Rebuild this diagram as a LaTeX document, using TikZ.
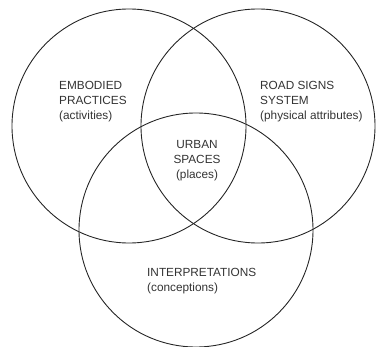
\documentclass[tikz,border=0pt]{standalone}
\usepackage{fontspec}
\setmainfont{Liberation Sans}
\begin{document}
\begin{tikzpicture}[x=1pt,y=-1pt,
  ring/.style={circle, draw=black!85, line width=0.9pt, minimum size=234pt, inner sep=0pt},
  lbl/.style={inner sep=0pt, font=\fontsize{11.8}{15}\selectfont, text=black!80}]
\useasboundingbox (0,0) rectangle (377,347);
\node[ring] (L) at (129,126) {};
\node[ring] (R) at (258,126) {};
\node[ring] (B) at (196,230) {};
\node[lbl, anchor=west, align=left] (emb) at (59,102) {EMBODIED\\PRACTICES\\(activities)};
\node[lbl, anchor=west, align=left] (road) at (260,102) {ROAD SIGNS\\SYSTEM\\(physical attributes)};
\node[lbl, align=center] (urban) at (197,161) {URBAN\\SPACES\\(places)};
\node[lbl, anchor=west, align=left] (interp) at (147,281) {INTERPRETATIONS\\(conceptions)};
\end{tikzpicture}
\end{document}
